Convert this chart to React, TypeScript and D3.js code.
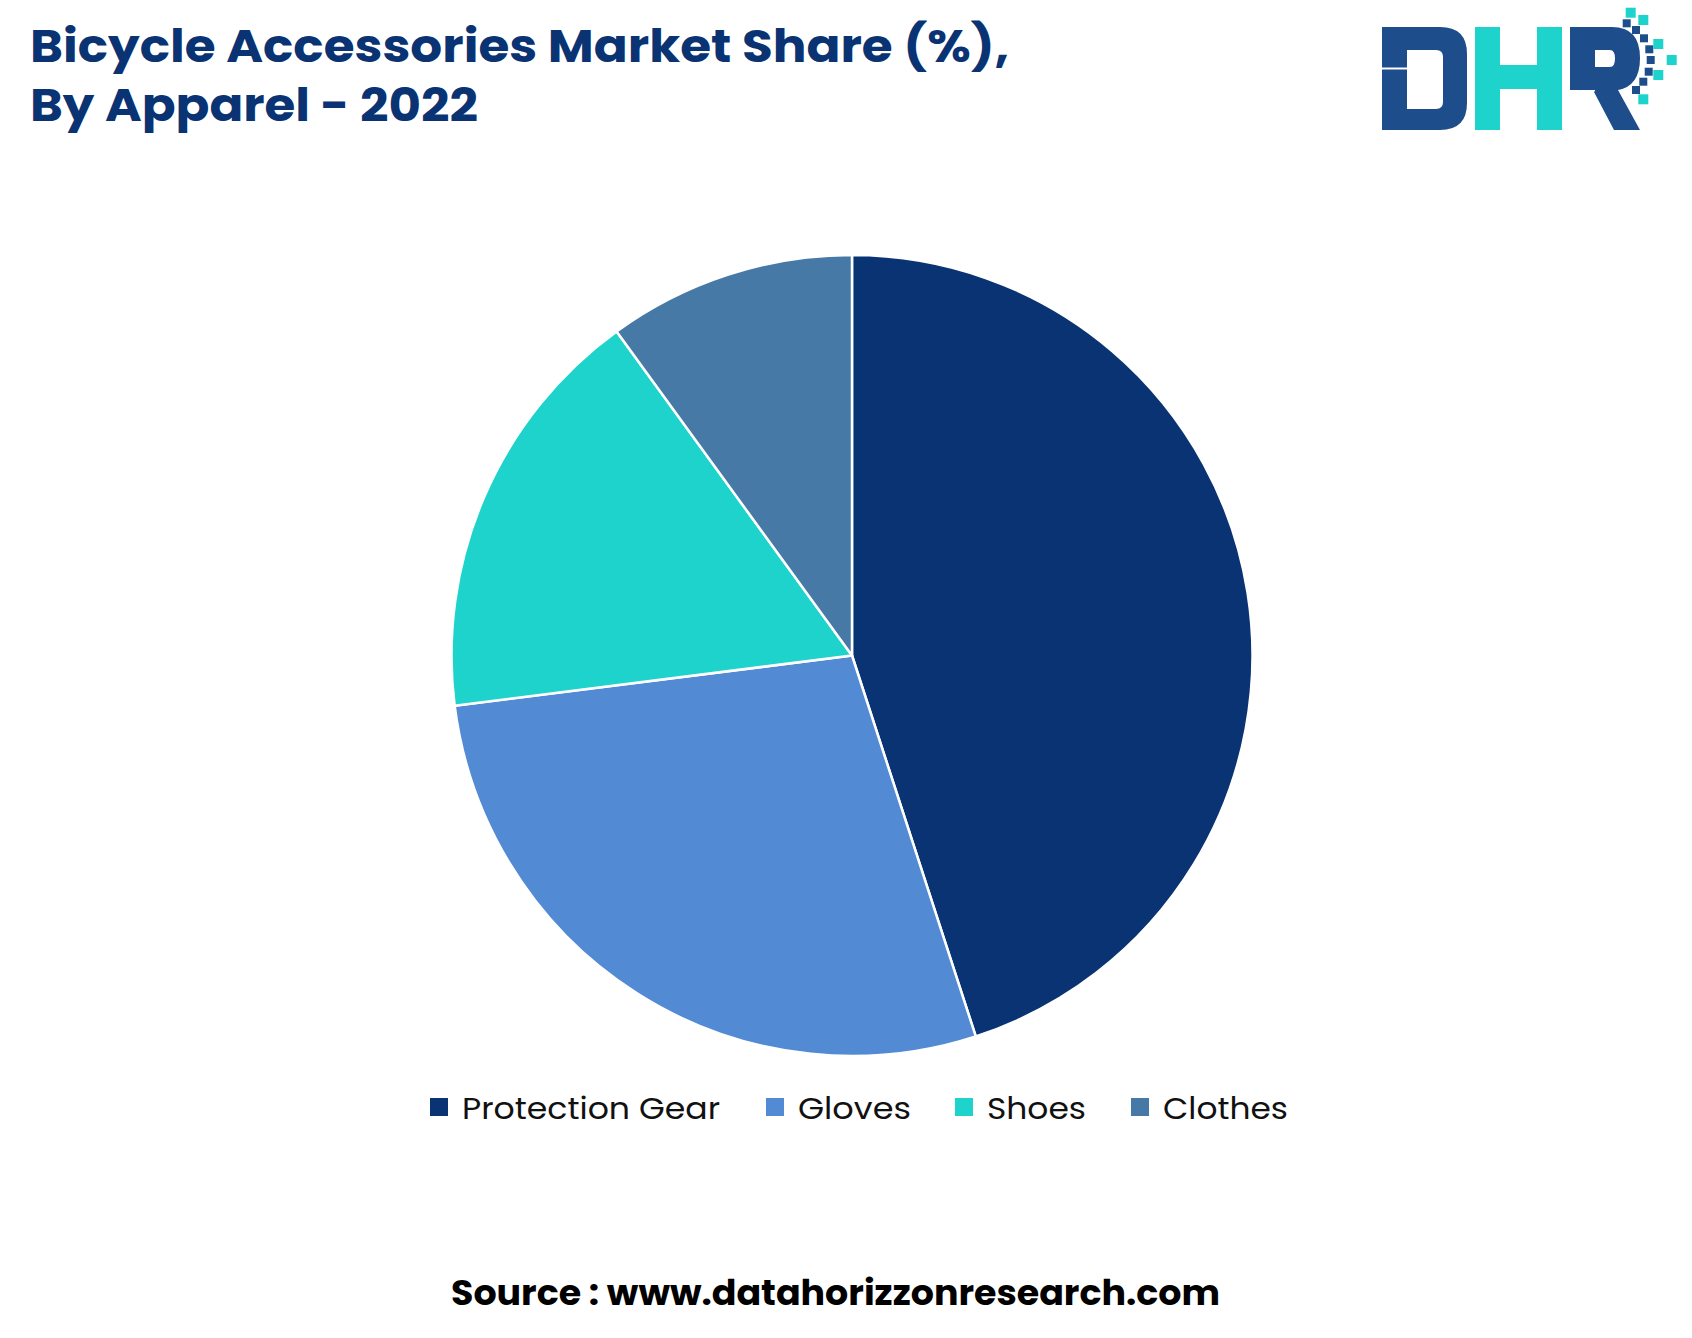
import React from "react";
import * as d3 from "d3";

const categories = ["Protection Gear", "Gloves", "Shoes", "Clothes"];
const shares = [45, 28, 17, 10];
const colors = ["#0a3373", "#528ad4", "#1dd3cb", "#4679a6"];

const titleLines = ["Bicycle Accessories Market Share (%),", "By Apparel - 2022"];
const sourceText = "Source : www.datahorizzonresearch.com";

const navyDots = [
  [1626.7, 23.3], [1636, 30], [1644, 38.3], [1649.3, 49.3],
  [1650.7, 60], [1648.7, 71.7], [1643.3, 81.7], [1636, 90],
];
const tealDots = [
  [1630.7, 12.7], [1643.3, 20], [1658.3, 44], [1671.7, 60], [1658.3, 75], [1643.3, 99.3],
];

const W = 1692;
const H = 1338;

export default function App() {
  const cx = 852;
  const cy = 655.5;
  const r = 400.5;
  const pie = d3.pie<number>().sort(null).value((d) => d)(shares);
  const arc = d3.arc<d3.PieArcDatum<number>>().innerRadius(0).outerRadius(r);

  const legendX = [430, 766, 955, 1131];
  const legendTextW = [258, 113, 99, 125];

  const navy = "#1d4d8a";
  const teal = "#1dd3cb";

  return (
    <svg
      width={W}
      height={H}
      style={{ position: "absolute", left: 0, top: 0, background: "#fff" }}
      fontFamily="Poppins, 'Open Sans', Inter, sans-serif"
    >
      <rect width={W} height={H} fill="#fff" />
      {/* title */}
      <text x={30} y={62} fontSize={46} fontWeight={700} fill="#0a3373" textLength={979} lengthAdjust="spacingAndGlyphs">
        {titleLines[0]}
      </text>
      <text x={30} y={121} fontSize={46} fontWeight={700} fill="#0a3373" textLength={448} lengthAdjust="spacingAndGlyphs">
        {titleLines[1]}
      </text>

      {/* logo */}
      <g>
        <path
          d="M1382,27 H1440 Q1467,27 1467,54 V103 Q1467,130 1440,130 H1382 V69 H1407 V109 H1436 Q1443,109 1443,102 V57 Q1443,50 1436,50 H1407 V69 H1382 Z"
          fill={navy}
          fillRule="evenodd"
        />
        <rect x={1382} y={67.5} width={25} height={2} fill="#fff" />
        <path d="M1475,27 H1500 V65 H1537 V27 H1562 V130 H1537 V89 H1500 V130 H1475 Z" fill={teal} />
        <path
          d="M1570,27 H1612 Q1640,27 1640,58 Q1640,86 1618,90 L1640,130 H1614 L1594,92 L1595,90 V90 H1570 Z M1595,50 V67 H1610 Q1615,67 1615,58.5 Q1615,50 1610,50 Z"
          fill={navy}
          fillRule="evenodd"
        />
        <path d="M1570,90 H1595 L1594,92 L1590,92 L1570,92 Z" fill="#fff" />
        {navyDots.map(([x, y], i) => (
          <rect key={"n" + i} x={x - 4} y={y - 4} width={8} height={8} fill={navy} />
        ))}
        {tealDots.map(([x, y], i) => (
          <rect key={"t" + i} x={x - 5} y={y - 5} width={10} height={10} fill={teal} />
        ))}
      </g>

      {/* pie */}
      <g transform={`translate(${cx},${cy})`}>
        {pie.map((d, i) => (
          <path key={i} d={arc(d) || ""} fill={colors[i]} stroke="#fff" strokeWidth={2.5} strokeLinejoin="round" />
        ))}
      </g>

      {/* legend */}
      {categories.map((c, i) => (
        <g key={c}>
          <rect x={legendX[i]} y={1098} width={18} height={18} fill={colors[i]} />
          <text
            x={legendX[i] + 32}
            y={1119}
            fontSize={31}
            fill="#111"
            textLength={legendTextW[i]}
            lengthAdjust="spacingAndGlyphs"
          >
            {c}
          </text>
        </g>
      ))}

      {/* source */}
      <text x={451} y={1305} fontSize={35} fontWeight={700} fill="#000" textLength={769} lengthAdjust="spacingAndGlyphs">
        {sourceText}
      </text>
    </svg>
  );
}
